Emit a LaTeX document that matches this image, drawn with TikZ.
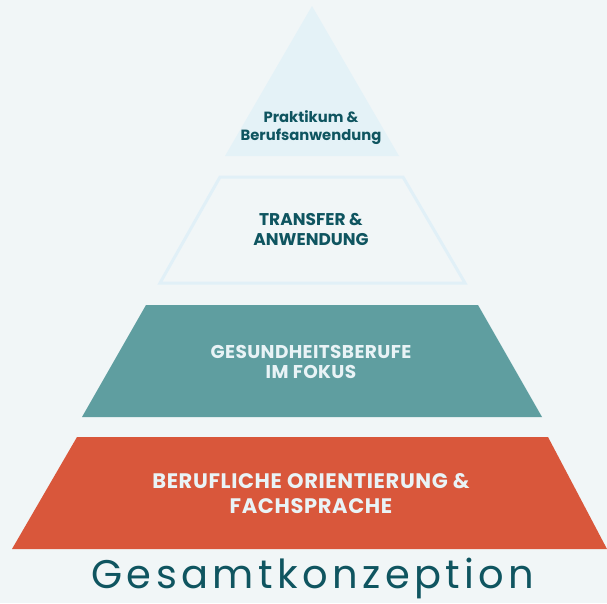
\documentclass[tikz,border=0pt]{standalone}
\usepackage{fontspec}
\setmainfont{Poppins}
\usepackage{tikz}
\definecolor{bgpale}{HTML}{F1F6F7}
\definecolor{topblue}{HTML}{E4F2F7}
\definecolor{lineblue}{HTML}{E1F0F7}
\definecolor{tealband}{HTML}{5F9EA0}
\definecolor{rustband}{HTML}{D9573B}
\definecolor{darkteal}{HTML}{0F5560}
\definecolor{paletext}{HTML}{E9F3F6}
\tikzset{
  lvltext/.style={align=center,font=\bfseries\fontsize{#1}{#1}\selectfont},
  lvltext/.default=17
}

\begin{document}
\begin{tikzpicture}[x=1pt,y=-1pt]
\fill[bgpale](0,0) rectangle (607,603);
\useasboundingbox (0,0) rectangle (607,603);
% levels, top to bottom
\fill[topblue](312,6)--(399,156)--(225,156)--cycle;
\draw[lineblue,line width=3pt,line join=miter](220,177)--(403,177)--(465,283)--(160,283)--cycle;
\fill[tealband](146,305)--(478,305)--(542,417)--(82,417)--cycle;
\fill[rustband](77,437)--(548,437)--(607,549)--(12,549)--cycle;
% labels
\node[lvltext=14.8,text=darkteal] (praxis) at (311,128) {Praktikum \&\\[3pt]Berufsanwendung};
\node[lvltext=17,text=darkteal] (transfer) at (311,229) {TRANSFER \&\\[3pt]ANWENDUNG};
\node[lvltext=18.5,text=paletext] (fokus) at (311,362) {\addfontfeature{LetterSpace=2}GESUNDHEITSBERUFE\\[2pt]\addfontfeature{LetterSpace=2}IM FOKUS};
\node[lvltext=21,text=paletext] (sprache) at (311,494) {\addfontfeature{LetterSpace=3}BERUFLICHE ORIENTIERUNG \&\\[4pt]\addfontfeature{LetterSpace=3}FACHSPRACHE};
\node[text=darkteal,font=\fontsize{40}{40}\selectfont,inner sep=0pt,anchor=base] (titel) at (313,588)
  {\addfontfeature{LetterSpace=11}Gesamtkonzeption};
\end{tikzpicture}
\end{document}
